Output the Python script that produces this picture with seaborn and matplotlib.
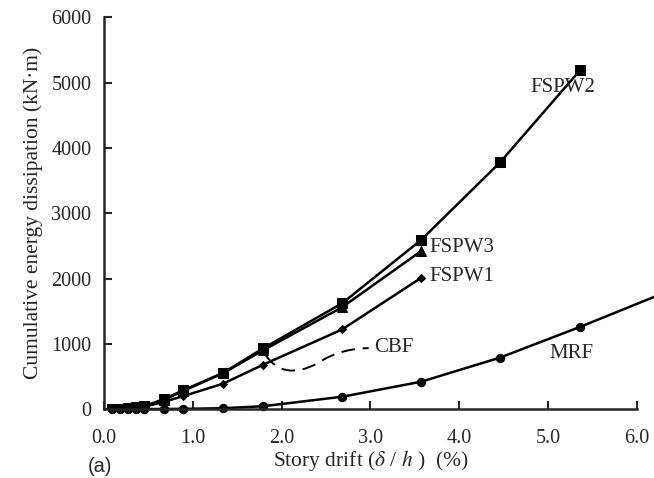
import numpy as np
import pandas as pd
import matplotlib
matplotlib.use("Agg")
import matplotlib.pyplot as plt
from matplotlib.path import Path
from matplotlib.patches import PathPatch
import seaborn as sns

# ---- data ----
drift = [0.089, 0.179, 0.268, 0.357, 0.446, 0.670, 0.893, 1.34, 1.79, 2.68, 3.57, 4.46, 5.36]
fspw2 = [5, 10, 18, 28, 45, 150, 290, 555, 930, 1620, 2590, 3780, 5190]
fspw3 = [5, 10, 17, 27, 42, 140, 280, 550, 900, 1560, 2420]
fspw1 = [4, 8, 14, 22, 35, 110, 200, 390, 680, 1220, 2010]
mrf_drift = drift + [6.25]
mrf = [0, 0, 1, 1, 2, 3, 5, 15, 45, 190, 420, 790, 1260, 1750]

series_labels = ["FSPW2", "FSPW3", "FSPW1", "CBF", "MRF"]
x_ticks = [0.0, 1.0, 2.0, 3.0, 4.0, 5.0, 6.0]
y_ticks = [0, 1000, 2000, 3000, 4000, 5000, 6000]

sns.set_theme(style="ticks")
plt.rcParams["font.family"] = ["Liberation Serif", "DejaVu Serif"]
plt.rcParams["mathtext.fontset"] = "stix"

fig = plt.figure(figsize=(6.54, 4.78), dpi=100)
ax = fig.add_axes([0.159, 0.144, 0.815, 0.82])

lw = 1.8
sns.lineplot(x=drift, y=fspw2, ax=ax, color="black", lw=lw, marker="s",
             markersize=6.5, markeredgecolor="black", sort=False)
sns.lineplot(x=drift[:len(fspw3)], y=fspw3, ax=ax, color="black", lw=lw,
             marker="^", markersize=7, markeredgecolor="black", sort=False)
sns.lineplot(x=drift[:len(fspw1)], y=fspw1, ax=ax, color="black", lw=lw,
             marker="D", markersize=4.5, markeredgecolor="black", sort=False)
sns.lineplot(x=mrf_drift, y=mrf, ax=ax, color="black", lw=lw,
             marker="o", markersize=6, markeredgecolor="black", sort=False)
ax.lines[-1].set_clip_on(False)

# CBF dashed leader
verts = [(1.82, 830), (1.95, 560), (2.15, 520), (2.4, 700),
         (2.6, 880), (2.8, 930), (2.98, 935)]
codes = [Path.MOVETO, Path.CURVE4, Path.CURVE4, Path.CURVE4,
         Path.CURVE4, Path.CURVE4, Path.CURVE4]
ax.add_patch(PathPatch(Path(verts, codes), fill=False, lw=1.4, ls=(0, (7, 4)),
                       color="black"))

fs = 15
ax.text(4.8, 4930, series_labels[0], fontsize=fs, va="center", ha="left")
ax.text(3.66, 2480, series_labels[1], fontsize=fs, va="center", ha="left")
ax.text(3.66, 2037, series_labels[2], fontsize=fs, va="center", ha="left")
ax.text(3.04, 950, series_labels[3], fontsize=fs, va="center", ha="left")
ax.text(5.01, 858, series_labels[4], fontsize=fs, va="center", ha="left")

ax.set_xlim(0, 6.0)
ax.set_ylim(0, 6000)
ax.set_xticks(x_ticks)
ax.set_xticklabels([f"{t:.1f}" for t in x_ticks])
ax.set_yticks(y_ticks)
ax.tick_params(direction="in", length=6, width=1.5, labelsize=14.5)
ax.tick_params(axis="x", pad=14)
ax.tick_params(axis="y", pad=9)
for s in ["left", "bottom"]:
    ax.spines[s].set_linewidth(1.8)
sns.despine(ax=ax)

ax.set_xlabel("Story drift ($\\delta$ / $h$ )  (%)", fontsize=15.5, labelpad=0)
ax.set_ylabel("Cumulative energy dissipation (kN\u00b7m)", fontsize=15.5, labelpad=6)

fig.text(88 / 654, 1 - 466 / 478, "(a)", fontsize=14.5, family="Liberation Sans",
         va="center", ha="left")

fig.savefig("out.png", dpi=100, facecolor="white")
